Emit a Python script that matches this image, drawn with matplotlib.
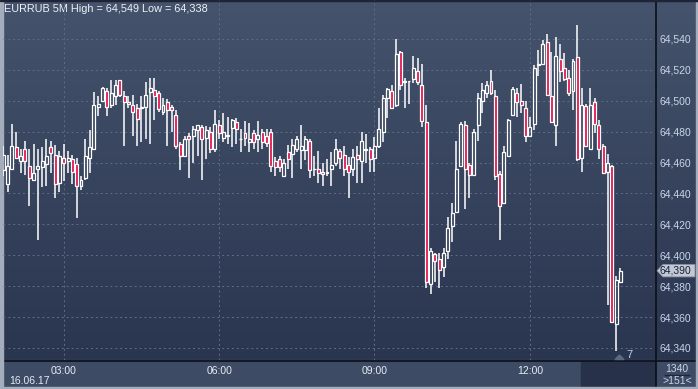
import numpy as np
import matplotlib.pyplot as plt
from matplotlib.patches import Rectangle, Polygon
from matplotlib.transforms import blended_transform_factory

# 5-minute candles, EURRUB, 16.06.17 from 01:50
opens = [64.455, 64.446, 64.456, 64.470, 64.461, 64.469, 64.458, 64.4485, 64.4555, 64.457,
         64.459, 64.470, 64.465, 64.447, 64.463, 64.461, 64.462, 64.459, 64.4445, 64.450,
         64.463, 64.469, 64.496, 64.500, 64.506, 64.497, 64.503, 64.5135, 64.503, 64.499,
         64.497, 64.495, 64.495, 64.496, 64.5055, 64.507, 64.505, 64.4925, 64.499, 64.496,
         64.491, 64.472, 64.464, 64.4775, 64.477, 64.481, 64.483, 64.476, 64.480, 64.4685,
         64.484, 64.476, 64.477, 64.4825, 64.486, 64.4755, 64.479, 64.4735, 64.479, 64.4755,
         64.480, 64.477, 64.480, 64.461, 64.4625, 64.4515, 64.467, 64.4655, 64.469, 64.468,
         64.468, 64.474, 64.456, 64.4555, 64.454, 64.453, 64.4555, 64.460, 64.4675, 64.465,
         64.4585, 64.4555, 64.465, 64.461, 64.468, 64.4685, 64.463, 64.471, 64.480, 64.5015,
         64.5065, 64.497, 64.5315, 64.512, 64.5125, 64.514, 64.5195, 64.5105, 64.486, 64.3815,
         64.401, 64.3975, 64.3925, 64.4025, 64.419, 64.428, 64.4575, 64.4845, 64.4585, 64.452,
         64.4845, 64.500, 64.505, 64.5125, 64.503, 64.4525, 64.434, 64.4645, 64.491, 64.505,
         64.500, 64.4955, 64.4775, 64.485, 64.523, 64.524, 64.538, 64.503, 64.4845, 64.527,
         64.5215, 64.515, 64.5065, 64.5285, 64.463, 64.4965, 64.469, 64.4995, 64.4845, 64.471,
         64.454, 64.458, 64.3555, 64.3825]
highs = [64.4705, 64.465, 64.485, 64.4795, 64.469, 64.474, 64.469, 64.472, 64.469, 64.470,
         64.475, 64.474, 64.4715, 64.4675, 64.472, 64.4675, 64.465, 64.463, 64.451, 64.475,
         64.481, 64.5055, 64.503, 64.509, 64.508, 64.5135, 64.5135, 64.5135, 64.506, 64.503,
         64.504, 64.498, 64.503, 64.512, 64.515, 64.515, 64.5065, 64.5015, 64.501, 64.4975,
         64.494, 64.473, 64.4775, 64.479, 64.4835, 64.4845, 64.4845, 64.4835, 64.483, 64.494,
         64.4875, 64.492, 64.4895, 64.4885, 64.489, 64.4815, 64.487, 64.4855, 64.481, 64.487,
         64.4815, 64.4815, 64.4815, 64.4635, 64.4645, 64.4625, 64.4715, 64.475, 64.4775, 64.4845,
         64.4775, 64.4755, 64.4645, 64.4675, 64.4595, 64.4625, 64.4665, 64.4755, 64.469, 64.471,
         64.4635, 64.4685, 64.471, 64.4795, 64.4785, 64.470, 64.4765, 64.4955, 64.5035, 64.5085,
         64.5105, 64.540, 64.5325, 64.515, 64.513, 64.529, 64.5275, 64.524, 64.4975, 64.405,
         64.4015, 64.4015, 64.405, 64.425, 64.434, 64.474, 64.4865, 64.487, 64.460, 64.482,
         64.505, 64.5115, 64.5125, 64.520, 64.507, 64.4545, 64.4705, 64.488, 64.509, 64.5085,
         64.511, 64.500, 64.4895, 64.523, 64.533, 64.5395, 64.5435, 64.5315, 64.5415, 64.5365,
         64.531, 64.520, 64.527, 64.549, 64.5085, 64.498, 64.5085, 64.5015, 64.4875, 64.472,
         64.4655, 64.4585, 64.3865, 64.392]
lows = [64.451, 64.441, 64.455, 64.462, 64.453, 64.452, 64.432, 64.448, 64.410, 64.444,
        64.4445, 64.453, 64.437, 64.441, 64.448, 64.453, 64.446, 64.424, 64.4425, 64.4485,
        64.453, 64.4685, 64.490, 64.4995, 64.490, 64.495, 64.4975, 64.5025, 64.4705, 64.495,
        64.4775, 64.4705, 64.473, 64.475, 64.472, 64.4875, 64.493, 64.4905, 64.4705, 64.480,
        64.4685, 64.455, 64.4635, 64.450, 64.4595, 64.4645, 64.4485, 64.4625, 64.466, 64.4665,
        64.4755, 64.4735, 64.472, 64.470, 64.472, 64.4665, 64.471, 64.4665, 64.469, 64.467,
        64.469, 64.470, 64.454, 64.451, 64.454, 64.451, 64.4555, 64.450, 64.467, 64.4555,
        64.4615, 64.450, 64.4515, 64.447, 64.445, 64.4515, 64.4445, 64.4575, 64.456, 64.4515,
        64.437, 64.4515, 64.447, 64.447, 64.460, 64.454, 64.454, 64.4695, 64.4735, 64.489,
        64.495, 64.496, 64.507, 64.4955, 64.498, 64.5115, 64.5105, 64.483, 64.3785, 64.375,
        64.383, 64.379, 64.386, 64.3975, 64.4085, 64.428, 64.4575, 64.430, 64.437, 64.451,
        64.474, 64.492, 64.5015, 64.5035, 64.449, 64.410, 64.433, 64.464, 64.490, 64.4895,
        64.492, 64.4735, 64.477, 64.481, 64.516, 64.523, 64.503, 64.486, 64.471, 64.512,
        64.5125, 64.503, 64.494, 64.461, 64.454, 64.4705, 64.469, 64.479, 64.462, 64.453,
        64.368, 64.356, 64.338, 64.382]
closes = [64.465, 64.458, 64.471, 64.463, 64.4645, 64.461, 64.450, 64.453, 64.458, 64.461,
          64.464, 64.466, 64.446, 64.464, 64.460, 64.463, 64.454, 64.445, 64.449, 64.464,
          64.470, 64.497, 64.498, 64.508, 64.496, 64.505, 64.5105, 64.504, 64.499, 64.498,
          64.4925, 64.4885, 64.496, 64.504, 64.5085, 64.503, 64.4945, 64.497, 64.494, 64.494,
          64.4705, 64.464, 64.4755, 64.475, 64.482, 64.484, 64.475, 64.481, 64.469, 64.485,
          64.479, 64.480, 64.478, 64.4875, 64.482, 64.4755, 64.476, 64.4755, 64.473, 64.478,
          64.473, 64.4725, 64.4575, 64.457, 64.457, 64.460, 64.4625, 64.4715, 64.4755, 64.471,
          64.4755, 64.455, 64.456, 64.4535, 64.4525, 64.454, 64.4585, 64.4685, 64.463, 64.456,
          64.454, 64.4635, 64.4625, 64.474, 64.469, 64.4625, 64.4705, 64.4815, 64.502, 64.5075,
          64.4955, 64.5305, 64.5105, 64.513, 64.513, 64.5215, 64.512, 64.487, 64.3825, 64.403,
          64.3965, 64.3905, 64.4015, 64.4175, 64.4275, 64.456, 64.485, 64.456, 64.452, 64.480,
          64.5015, 64.507, 64.5105, 64.505, 64.4515, 64.432, 64.4665, 64.4875, 64.5075, 64.499,
          64.4975, 64.477, 64.483, 64.5215, 64.5235, 64.5365, 64.504, 64.486, 64.529, 64.5195,
          64.514, 64.505, 64.526, 64.462, 64.4975, 64.471, 64.497, 64.485, 64.4685, 64.4535,
          64.4595, 64.357, 64.384, 64.390]

time_labels = ['03:00', '06:00', '09:00', '12:00']
time_bars = [14, 50, 86, 122]
price_ticks = [64.34, 64.36, 64.38, 64.40, 64.42, 64.44, 64.46, 64.48, 64.50, 64.52, 64.54]
date_label = '16.06.17'
title = 'EURRUB 5M High = 64,549 Low = 64,338'
last_price = 64.390
bars_total = '1340'
bars_visible = '>151<'
marker_count = '7'

W, H = 698, 389
txt = '#c9d5e8'
fs = 7.5
plt.rcParams['font.family'] = ['Liberation Sans', 'DejaVu Sans']

fig = plt.figure(figsize=(W / 100, H / 100), dpi=100)

# panels drawn in pixel coordinates
frame = fig.add_axes([0, 0, 1, 1])
frame.set_xlim(0, W)
frame.set_ylim(H, 0)
frame.axis('off')
top_c = np.array([0x45, 0x53, 0x6c]) / 255
bot_c = np.array([0x2a, 0x35, 0x50]) / 255
t = np.linspace(0, 1, 256)[:, None]
grad = (top_c * (1 - t) + bot_c * t)[:, None, :]
frame.imshow(grad, extent=(0, W, 360, 0), aspect='auto', zorder=0)
frame.add_patch(Rectangle((0, 360), W, H - 360, color='#3e4b65', zorder=1))
frame.add_patch(Rectangle((581, 362), 74, 24, color='#273149', zorder=2))
frame.plot([0, W], [360.5, 360.5], color='#0b0f18', lw=1.2, zorder=3)
frame.plot([655.5, 655.5], [0, 387], color='#0b0f18', lw=1.2, zorder=3)
frame.add_patch(Rectangle((0, 0), 2.5, H, color='#a3adbb', zorder=4))
frame.add_patch(Rectangle((W - 2.5, 0), 2.5, H, color='#a3adbb', zorder=4))
frame.add_patch(Rectangle((0, H - 2.5), W, 2.5, color='#a3adbb', zorder=4))
frame.add_patch(Rectangle((0, 0), W, 1.2, color='#1c2436', zorder=4))

frame.text(4, 9, title, color='#eef2f8', fontsize=7.8, va='center', ha='left', zorder=5)
frame.text(9, 381, date_label, color='#e6ecf4', fontsize=fs, va='center', ha='left')
frame.text(677, 369, bars_total, color=txt, fontsize=fs, va='center', ha='center')
frame.plot([665, 689], [374.5, 374.5], color='#1e2638', lw=1)
frame.text(677, 381, bars_visible, color=txt, fontsize=fs, va='center', ha='center')
frame.add_patch(Polygon([[615, 359.5], [619.5, 355], [624, 359.5]], color='#5c6a84', zorder=5))
frame.text(626, 355, marker_count, color='#b5d3f5', fontsize=8, va='center', ha='left', zorder=5)

# chart area
ax = fig.add_axes([3 / W, 1 - 360 / H, 652 / W, 360 / H])
ax.patch.set_visible(False)
for s in ax.spines.values():
    s.set_visible(False)

x = np.arange(len(opens))
o = np.array(opens)
c = np.array(closes)
h = np.array(highs)
l = np.array(lows)
up = c >= o
top = np.maximum(o, c)
bot = np.minimum(o, c)

ax.vlines(x, top, h, color='white', lw=1.1, zorder=3)
ax.vlines(x, l, bot, color='white', lw=1.1, zorder=3)
ax.bar(x[up], (top - bot)[up], bottom=bot[up], width=0.68, facecolor='none',
       edgecolor='white', linewidth=0.9, zorder=4)
ax.bar(x[~up], (top - bot)[~up], bottom=bot[~up], width=0.68, facecolor='#e3124a',
       edgecolor='white', linewidth=0.9, zorder=4)

ax.set_xlim(-0.07, 151.0)
ax.set_ylim(64.3322, 64.5652)
ax.set_xticks(time_bars)
ax.set_xticklabels(time_labels)
ax.set_yticks(price_ticks)
ax.set_yticklabels([f'{v:.3f}'.replace('.', ',') for v in price_ticks])
ax.yaxis.tick_right()
ax.tick_params(axis='both', length=0, labelsize=fs, labelcolor=txt)
ax.tick_params(axis='y', pad=3)
ax.tick_params(axis='x', pad=4, labelcolor='#e6ecf4')
ax.grid(True, color='#5d6d8a', linestyle=(0, (2, 3)), linewidth=0.7, zorder=1)

# last price marker
tr = blended_transform_factory(ax.transAxes, ax.transData)
x0, x1, x2 = (657 - 3) / 652, (663 - 3) / 652, (695 - 3) / 652
dy = 0.0040
ax.add_patch(Polygon([[x0, last_price], [x1, last_price + dy], [x2, last_price + dy],
                      [x2, last_price - dy], [x1, last_price - dy]], closed=True,
                     transform=tr, clip_on=False, facecolor='#c3c9d2',
                     edgecolor='#8a93a3', lw=0.6, zorder=6))
ax.text((660 - 3) / 652, last_price, f'{last_price:.3f}'.replace('.', ','), transform=tr,
        fontsize=fs, color='#16203a', va='center', ha='left', zorder=7)

plt.savefig('out.png', dpi=100)
